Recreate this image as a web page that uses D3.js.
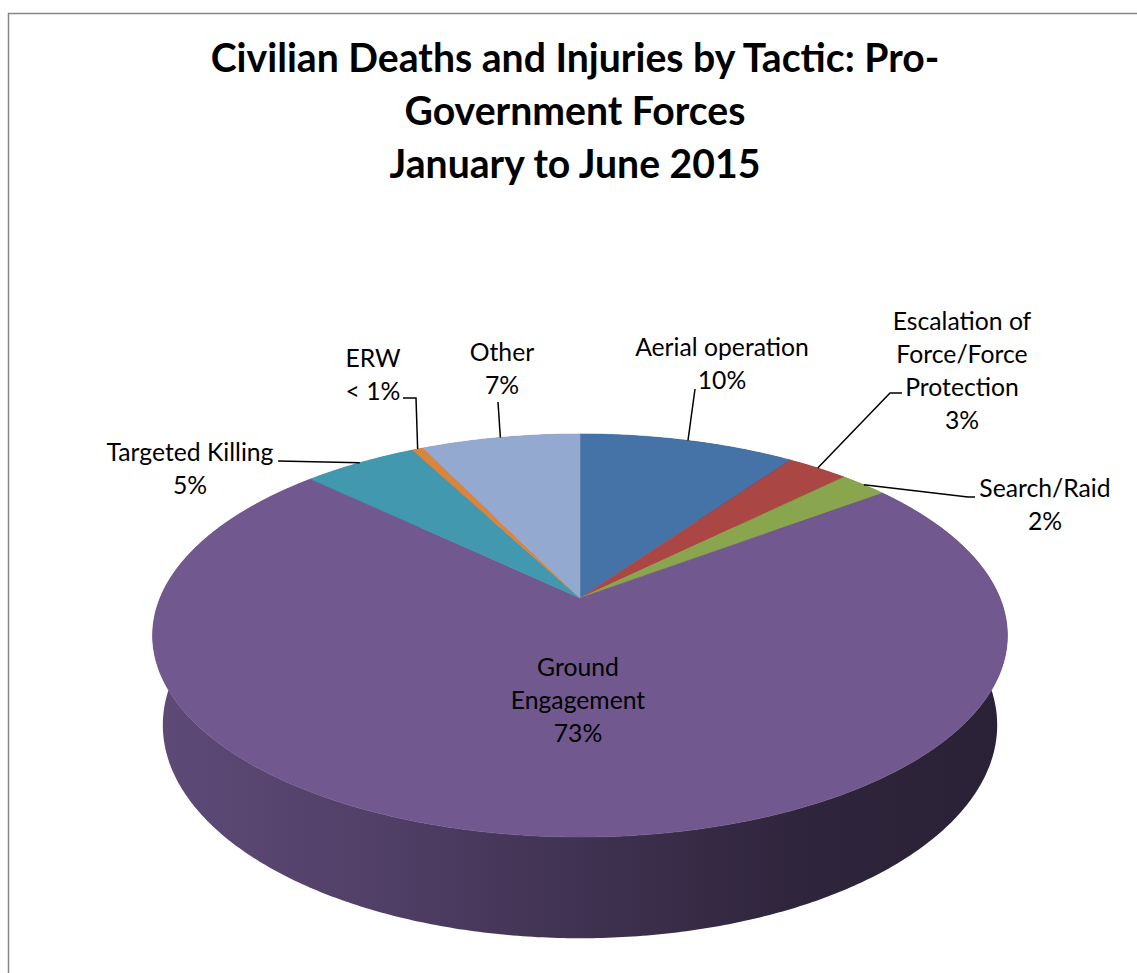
<!DOCTYPE html>
<html>
<head>
<meta charset="utf-8">
<script src="https://cdn.jsdelivr.net/npm/d3@7"></script>
<style>
  body { margin: 0; background: #fff; }
  text { font-family: Lato, "Open Sans", sans-serif; fill: #000; }
</style>
</head>
<body>
<svg id="chart" width="1137" height="973"></svg>
<script>
// data (share of civilian casualties, %)
var categories = ["Aerial operation", "Escalation of Force/Force Protection", "Search/Raid",
    "Ground Engagement", "Targeted Killing", "ERW", "Other"];
var shares = [9.8, 2.8, 2.2, 72.4, 5.2, 0.5, 7.2];
var percentLabels = ["10%", "3%", "2%", "73%", "5%", "< 1%", "7%"];
var nameLines = [["Aerial operation"], ["Escalation of", "Force/Force", "Protection"], ["Search/Raid"],
    ["Ground", "Engagement"], ["Targeted Killing"], ["ERW"], ["Other"]];
var sliceColors = ["#4572A7", "#AA4643", "#89A54E", "#71588F", "#4198AF", "#DB843D", "#93A9CF"];
var titleLines = ["Civilian Deaths and Injuries by Tactic: Pro-", "Government Forces", "January to June 2015"];

// where each label sits, and the bends of its leader line
var labelLayout = [
    { x: 722, y: 348, bends: [[695, 389]] },
    { x: 962, y: 322, bends: [[890, 393], [902, 393]] },
    { x: 1045, y: 489, bends: [[968, 497], [975, 497]] },
    { x: 578, y: 668, bends: null },
    { x: 190, y: 453, bends: [[278, 461]] },
    { x: 373, y: 359, bends: [[416, 398], [403, 398]] },
    { x: 502, y: 353, bends: [[498, 402]] }
];

var svg = d3.select('#chart');

// frame
svg.append('rect')
    .attr('x', 8.5).attr('y', 13.5)
    .attr('width', 1300).attr('height', 1100)
    .attr('fill', '#fff')
    .attr('stroke', '#868686')
    .attr('stroke-width', 1.5);

// perspective camera for the 3D pie
var view = { cx: 580, cy: 598, f: 2001, dist: 4.765, tilt: 27.6 * Math.PI / 180, depth: 0.243 };
var cosT = Math.cos(view.tilt), sinT = Math.sin(view.tilt);

function project(theta, r, z) {
    var x = r * Math.sin(theta), y = -r * Math.cos(theta);
    var qy = y - view.dist * cosT, qz = z - view.dist * sinT;
    var depth = -qy * cosT - qz * sinT;
    var up = -qy * sinT + qz * cosT;
    return [view.cx + view.f * x / depth, view.cy - view.f * up / depth];
}

function rim(a0, a1, z) {
    var n = Math.max(2, Math.ceil(Math.abs(a1 - a0) / 0.01));
    return d3.range(n + 1).map(function (i) { return project(a0 + (a1 - a0) * i / n, 1, z); });
}

var pie = d3.pie().sort(null).value(function (d) { return d; });
var arcs = pie(shares);
var line = d3.line();

// side shading, light on the left, dark on the right
var defs = svg.append('defs');
var shade = d3.scaleLinear().domain([0, 0.25, 0.5, 0.75, 1]).range([0.16, 0.27, 0.43, 0.58, 0.62]);
sliceColors.forEach(function (c, i) {
    var grad = defs.append('linearGradient')
        .attr('id', 'side' + i)
        .attr('gradientUnits', 'userSpaceOnUse')
        .attr('x1', 148).attr('x2', 1010).attr('y1', 0).attr('y2', 0);
    shade.domain().forEach(function (o) {
        grad.append('stop')
            .attr('offset', o)
            .attr('stop-color', d3.interpolateRgb(c, '#000')(shade(o)));
    });
});

var g = svg.append('g');

// outer walls
g.selectAll('.side')
    .data(arcs)
    .enter()
    .append('path')
    .attr('class', 'side')
    .attr('d', function (d) {
        var top = rim(d.startAngle, d.endAngle, 0);
        var bottom = rim(d.endAngle, d.startAngle, -view.depth);
        return line(top.concat(bottom)) + 'Z';
    })
    .attr('fill', function (d, i) { return 'url(#side' + i + ')'; });

// top faces
g.selectAll('.slice')
    .data(arcs)
    .enter()
    .append('path')
    .attr('class', 'slice')
    .attr('d', function (d) {
        var pts = [project(0, 0, 0)].concat(rim(d.startAngle, d.endAngle, 0));
        return line(pts) + 'Z';
    })
    .attr('fill', function (d, i) { return sliceColors[i]; })
    .attr('stroke', function (d, i) { return sliceColors[i]; })
    .attr('stroke-width', 0.6);

// font sizes matched to the reference text widths
function fitSize(text, weight, target) {
    var t = svg.append('text').attr('font-size', 100).attr('font-weight', weight).text(text);
    var w = t.node().getComputedTextLength();
    t.remove();
    return 100 * target / w;
}
var labelSize = fitSize('Targeted Killing', 'normal', 167);
var titleSize = fitSize(titleLines[0], 'bold', 729);

// title
svg.append('g')
    .selectAll('text')
    .data(titleLines)
    .enter()
    .append('text')
    .attr('x', 575)
    .attr('y', function (d, i) { return 72 + i * 53; })
    .attr('text-anchor', 'middle')
    .attr('font-weight', 'bold')
    .attr('font-size', titleSize)
    .text(function (d) { return d; });

// leader lines
var labels = svg.append('g');
labels.selectAll('.leader')
    .data(arcs.filter(function (d, i) { return labelLayout[i].bends; }))
    .enter()
    .append('path')
    .attr('class', 'leader')
    .attr('d', function (d) {
        var mid = (d.startAngle + d.endAngle) / 2;
        return line([project(mid, 1, 0)].concat(labelLayout[d.index].bends));
    })
    .attr('fill', 'none')
    .attr('stroke', '#000')
    .attr('stroke-width', 1.5);

// data labels
labels.selectAll('.label')
    .data(arcs)
    .enter()
    .append('text')
    .attr('class', 'label')
    .attr('text-anchor', 'middle')
    .attr('font-size', labelSize)
    .each(function (d, i) {
        var lines = nameLines[i].concat([percentLabels[i]]);
        var pos = labelLayout[i];
        d3.select(this).selectAll('tspan')
            .data(lines)
            .enter()
            .append('tspan')
            .attr('x', pos.x)
            .attr('y', function (t, j) { return pos.y + j * 33 + labelSize * 0.34; })
            .text(function (t) { return t; });
    });
</script>
</body>
</html>
